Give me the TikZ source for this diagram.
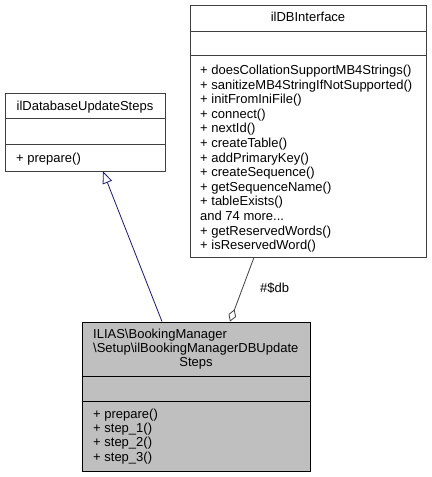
\documentclass[tikz,border=0pt]{standalone}
\usepackage{fontspec}
\setmainfont{Liberation Sans}
\usetikzlibrary{positioning,arrows.meta}
\newcommand\umlfont{\fontsize{13bp}{14.6bp}\selectfont}
\definecolor{edgegrey}{HTML}{404040}
\definecolor{mainfill}{HTML}{BFBFBF}
\definecolor{inheritblue}{HTML}{191970}
\tikzset{classbox/.style={rectangle, draw=edgegrey, fill=white, line width=0.8bp, inner sep=0pt},
  mainbox/.style={classbox, draw=black, fill=mainfill},
  member/.style={anchor=base west, inner sep=0pt, font=\umlfont},
  title/.style={anchor=base, inner sep=0pt, font=\umlfont},
  inherit/.style={draw=inheritblue, line width=0.8bp, -{Triangle[open, length=12bp, width=10bp, fill=white]}},
  aggr/.style={draw=edgegrey, line width=0.8bp, -{Diamond[open, length=13bp, width=8bp, fill=white]}},}

\begin{document}
\begin{tikzpicture}[x=1bp, y=-1bp]
\useasboundingbox (0,0) rectangle (431,477);
% the three classes
\node [classbox, minimum width=236bp, minimum height=252bp] (db) at (308,131) {};
\node [classbox, minimum width=160bp, minimum height=78bp] (steps) at (85,132) {};
\node [mainbox, minimum width=228bp, minimum height=149bp] (main) at (196,396.5) {};
\draw[edgegrey, line width=0.8bp] ([yshift=-27bp]db.north west) -- ([yshift=-27bp]db.north east);
\draw[edgegrey, line width=0.8bp] ([yshift=-51bp]db.north west) -- ([yshift=-51bp]db.north east);
\draw[edgegrey, line width=0.8bp] ([yshift=-26bp]steps.north west) -- ([yshift=-26bp]steps.north east);
\draw[edgegrey, line width=0.8bp] ([yshift=-52bp]steps.north west) -- ([yshift=-52bp]steps.north east);
\draw[black, line width=0.8bp] ([yshift=-55bp]main.north west) -- ([yshift=-55bp]main.north east);
\draw[black, line width=0.8bp] ([yshift=-80bp]main.north west) -- ([yshift=-80bp]main.north east);
% texts
\node [title] (dbtitle) at (308,22) {ilDBInterface};
\foreach \t [count=\i] in {{+ doesCollationSupportMB4Strings()}, {+ sanitizeMB4StringIfNotSupported()},
  {+ initFromIniFile()}, {+ connect()}, {+ nextId()}, {+ createTable()}, {+ addPrimaryKey()},
  {+ createSequence()}, {+ getSequenceName()}, {+ tableExists()}, {and 74 more{.}{.}{.}}, {+ getReservedWords()},
  {+ isReservedWord()}}
  \node [member] (dbm\i) at (200,{74.5+14.6*(\i-1)}) {\t};
\node [title] (stepstitle) at (85,111) {ilDatabaseUpdateSteps};
\node [member] (stepsm1) at (16,162.5) {+ prepare()};
\node [member] (maint1) at (93,338.5) {ILIAS\textbackslash BookingManager};
\node [member] (maint2) at (93,352.5) {\textbackslash Setup\textbackslash ilBookingManagerDBUpdate};
\node [title] (maint3) at (196,366.5) {Steps};
\foreach \t [count=\i] in {{+ prepare()}, {+ step\_1()}, {+ step\_2()}, {+ step\_3()}}
  \node [member] (mainm\i) at (93,{418.5+14.2*(\i-1)}) {\t};
% relations
\draw[inherit] ([xshift=-34bp]main.north) -- ([xshift=18bp]steps.south);
\draw[aggr] ([xshift=-54bp]db.south) -- ([xshift=34bp]main.north);
\node [member, anchor=west] (dblabel) at (260,288) {\#\$db};
\end{tikzpicture}
\end{document}
